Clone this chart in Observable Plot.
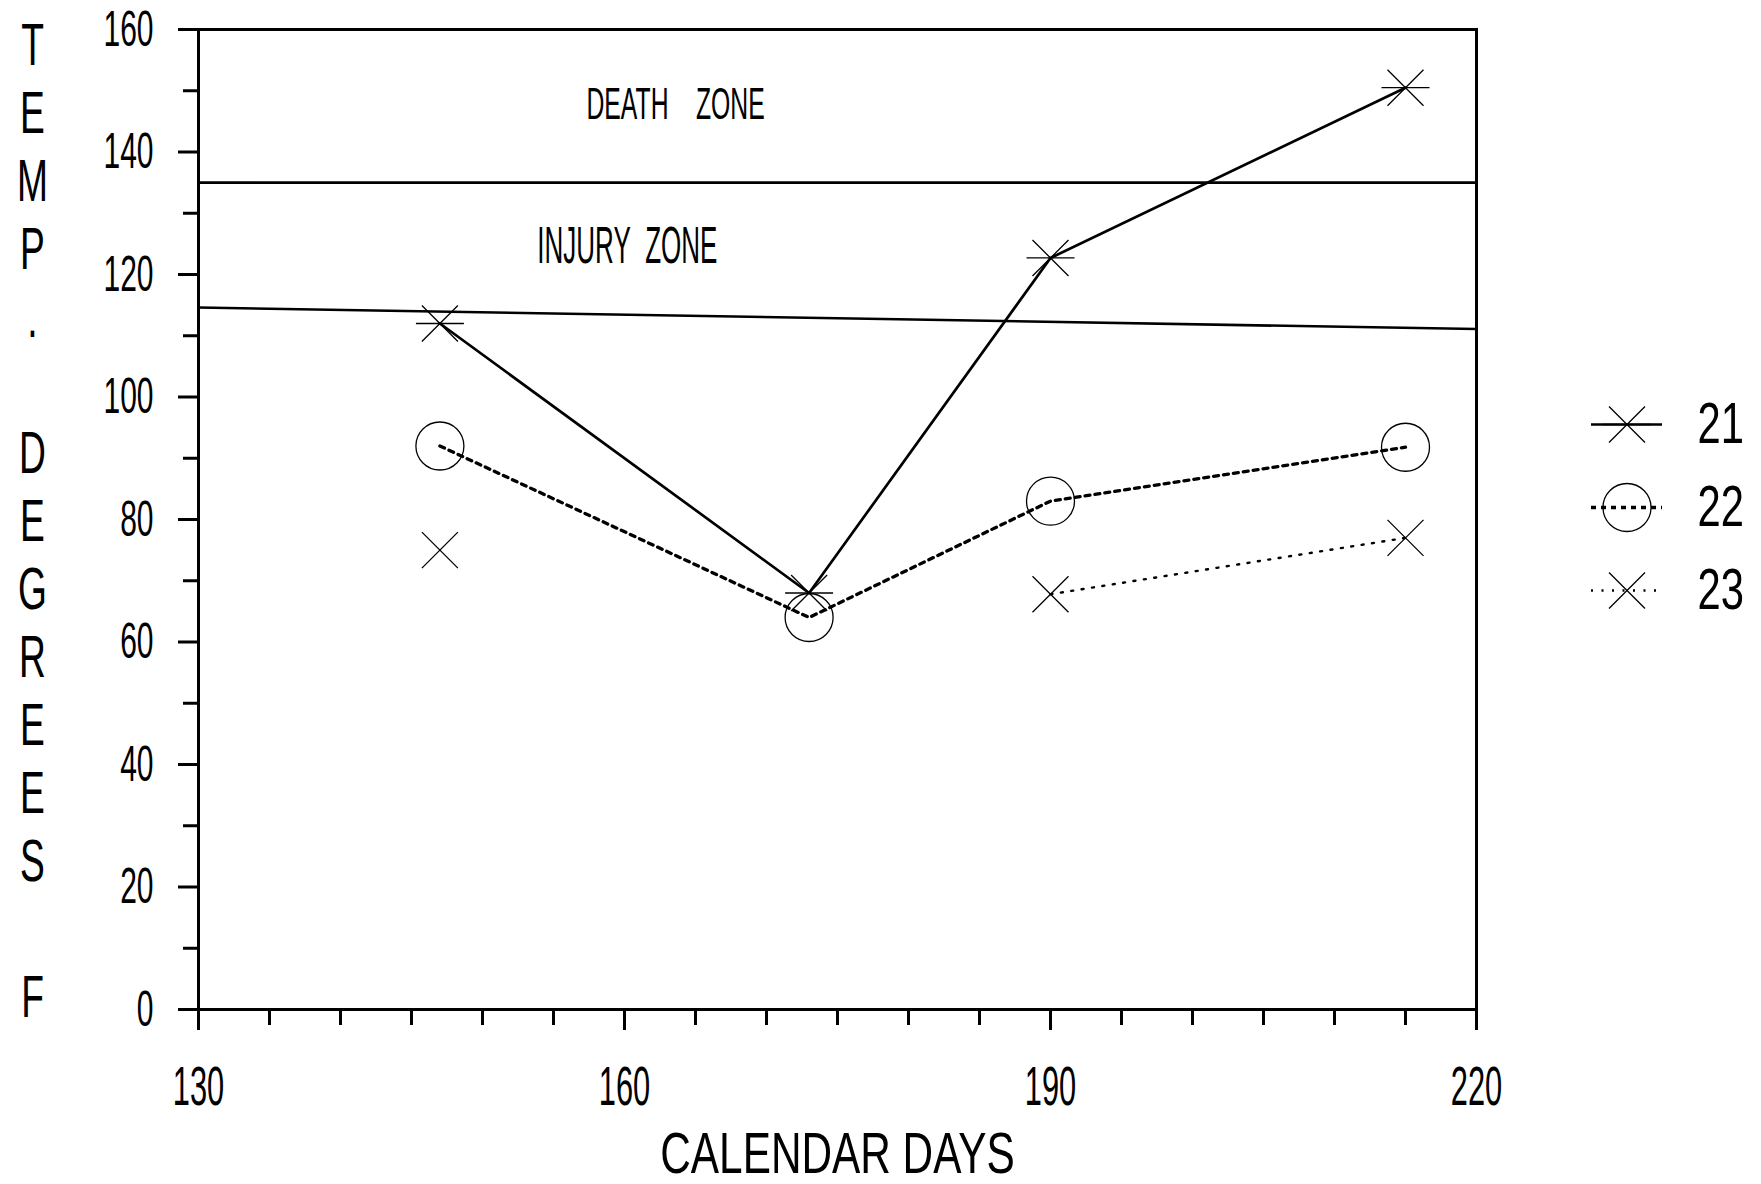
<!DOCTYPE html>
<html>
<head>
<meta charset="utf-8">
<script src="https://cdn.jsdelivr.net/npm/d3@7"></script>
<script src="https://cdn.jsdelivr.net/npm/@observablehq/plot@0.6"></script>
<style>
html, body { margin: 0; padding: 0; background: #fff; }
#wrap { position: relative; width: 1761px; height: 1184px; overflow: hidden; background: #fff; }
#chart { position: absolute; left: 0; top: 0; }
#legend { position: absolute; left: 1580px; top: 380px; }
</style>
</head>
<body>
<div id="wrap"><div id="chart"></div><div id="legend"></div></div>
<script>
// ---- data ----
const days = [147, 173, 190, 215];
const seriesNames = ["21", "22", "23"];
const temps21 = [112, 68, 122.7, 150.5];
const temps22 = [92, 64, 83, 91.8];
const temps23 = [75, null, 67.8, 77];

const zoneDays = [130, 220];
const deathLimit = [135, 135];
const injuryLimit = [114.6, 111.1];
const zoneLabels = ["DEATH ZONE", "INJURY ZONE"];
const zoneLabelDays = [163.6, 160.2];
const zoneLabelTemps = [147.7, 124.5];

const xTickLabels = [130, 160, 190, 220];
const xMinorTicks = [135, 140, 145, 150, 155, 165, 170, 175, 180, 185, 195, 200, 205, 210, 215];
const yTickLabels = [0, 20, 40, 60, 80, 100, 120, 140, 160];
const yMinorTicks = [10, 30, 50, 70, 90, 110, 130, 150];
const xTitle = "CALENDAR DAYS";
const yTitle = "TEMP. DEGREES F";

// ---- tables built from the arrays ----
const seriesTemps = {"21": temps21, "22": temps22, "23": temps23};
const rows = seriesNames.flatMap(s => days.map((day, i) => ({series: s, day, temp: seriesTemps[s][i]})));
const deathRows = zoneDays.map((day, i) => ({day, temp: deathLimit[i]}));
const injuryRows = zoneDays.map((day, i) => ({day, temp: injuryLimit[i]}));

// ---- symbols (hand-plotter style) ----
const symAsterisk = {draw(ctx, size) {
  const r = Math.sqrt(size / Math.PI), d = r * 0.75;
  ctx.moveTo(-r, 0); ctx.lineTo(r, 0);
  ctx.moveTo(-d, -d); ctx.lineTo(d, d);
  ctx.moveTo(-d, d); ctx.lineTo(d, -d);
}};
const symCircle = {draw(ctx, size) {
  const r = Math.sqrt(size / Math.PI);
  ctx.moveTo(r, 0); ctx.arc(0, 0, r, 0, 2 * Math.PI);
}};
const symTimes = {draw(ctx, size) {
  const r = Math.sqrt(size / Math.PI), d = r * 0.75;
  ctx.moveTo(-d, -d); ctx.lineTo(d, d);
  ctx.moveTo(-d, d); ctx.lineTo(d, -d);
}};
const symbols = {"21": symAsterisk, "22": symCircle, "23": symTimes};
const lineStyles = {
  "21": {strokeWidth: 2.7},
  "22": {strokeWidth: 3.3, strokeDasharray: "5,5"},
  "23": {strokeWidth: 2.4, strokeDasharray: "2,8.5"}
};
const markerR = 24;
const nb = "\u00a0";
const stacked = s => Array.from(s).map(c => c === " " ? nb : c).join("\n");
const spaced = (s, n) => s.replace(/ /g, nb.repeat(n));

const font = "'Liberation Sans', Arial, 'DejaVu Sans', sans-serif";

function condense(group, sx) {
  if (!group) return;
  group.querySelectorAll(":scope > text").forEach(t => {
    let tr = t.getAttribute("transform") || "";
    const x = t.getAttribute("x");
    if (x != null && /^-?[\d.]+$/.test(x) && +x !== 0) {
      tr += ` translate(${+x},0)`;
      t.removeAttribute("x");
    }
    t.setAttribute("transform", `${tr} scale(${sx},1)`);
  });
}

const chart = Plot.plot({
  width: 1761,
  height: 1184,
  marginLeft: 198,
  marginRight: 285,
  marginTop: 29,
  marginBottom: 175,
  x: {domain: [130, 220], axis: null, label: null},
  y: {domain: [0, 160], axis: null, label: null},
  style: {fontFamily: font, color: "black", background: "white", overflow: "visible"},
  marks: [
    Plot.frame({stroke: "black", strokeWidth: 3}),
    Plot.axisY(yMinorTicks, {anchor: "left", tickSize: 15, strokeWidth: 3, fill: "none", label: null}),
    Plot.axisY(yTickLabels, {anchor: "left", tickSize: 20, tickPadding: 25, strokeWidth: 3, fontSize: 50, label: null, tickFormat: d => String(d)}),
    Plot.axisX(xMinorTicks, {anchor: "bottom", tickSize: 16, strokeWidth: 3, fill: "none", label: null}),
    Plot.axisX(xTickLabels, {anchor: "bottom", tickSize: 21, tickPadding: 35, strokeWidth: 3, fontSize: 55, label: null, tickFormat: d => String(d)}),
    Plot.line(deathRows, {x: "day", y: "temp", stroke: "black", strokeWidth: 2.6}),
    Plot.line(injuryRows, {x: "day", y: "temp", stroke: "black", strokeWidth: 2.6}),
    Plot.text([0], {x: i => zoneLabelDays[i], y: i => zoneLabelTemps[i], text: i => spaced(zoneLabels[i], 4), fontSize: 45, textAnchor: "middle"}),
    Plot.text([1], {x: i => zoneLabelDays[i], y: i => zoneLabelTemps[i], text: i => spaced(zoneLabels[i], 2), fontSize: 51, textAnchor: "middle"}),
    ...seriesNames.map(s => Plot.line(rows.filter(r => r.series === s), {x: "day", y: "temp", stroke: "black", ...lineStyles[s]})),
    ...seriesNames.map(s => Plot.dot(rows.filter(r => r.series === s), {x: "day", y: "temp", symbol: symbols[s], r: markerR, fill: "none", stroke: "black", strokeWidth: 1.3})),
    Plot.text([yTitle], {text: d => stacked(d), frameAnchor: "left", dx: -166, textAnchor: "middle", lineAnchor: "middle", lineHeight: 1.133, fontSize: 60}),
    Plot.text([xTitle], {frameAnchor: "bottom", dy: 163, textAnchor: "middle", lineAnchor: "bottom", fontSize: 58})
  ]
});
document.getElementById("chart").appendChild(chart);
condense(chart.querySelector('g[aria-label="y-axis tick label"]'), 0.6);
condense(chart.querySelector('g[aria-label="x-axis tick label"]'), 0.56);
const tg = chart.querySelectorAll('g[aria-label="text"]');
condense(tg[0], 0.55);
condense(tg[1], 0.51);
condense(tg[2], 0.62);
condense(tg[3], 0.73);

const legend = Plot.plot({
  width: 181,
  height: 260,
  marginLeft: 11,
  marginRight: 99,
  marginTop: 43,
  marginBottom: 50,
  y: {type: "point", domain: seriesNames, padding: 0, axis: null},
  style: {fontFamily: font, color: "black", background: "transparent", overflow: "visible"},
  marks: [
    ...seriesNames.map(s => Plot.ruleY([s], {y: d => d, stroke: "black", ...lineStyles[s]})),
    ...seriesNames.map(s => Plot.dot([s], {y: d => d, frameAnchor: "middle", symbol: symbols[s], r: markerR, fill: "none", stroke: "black", strokeWidth: 1.3})),
    Plot.text(seriesNames, {y: d => d, frameAnchor: "right", textAnchor: "start", dx: 35, fontSize: 58})
  ]
});
document.getElementById("legend").appendChild(legend);
condense(legend.querySelector('g[aria-label="text"]'), 0.72);
</script>
</body>
</html>
